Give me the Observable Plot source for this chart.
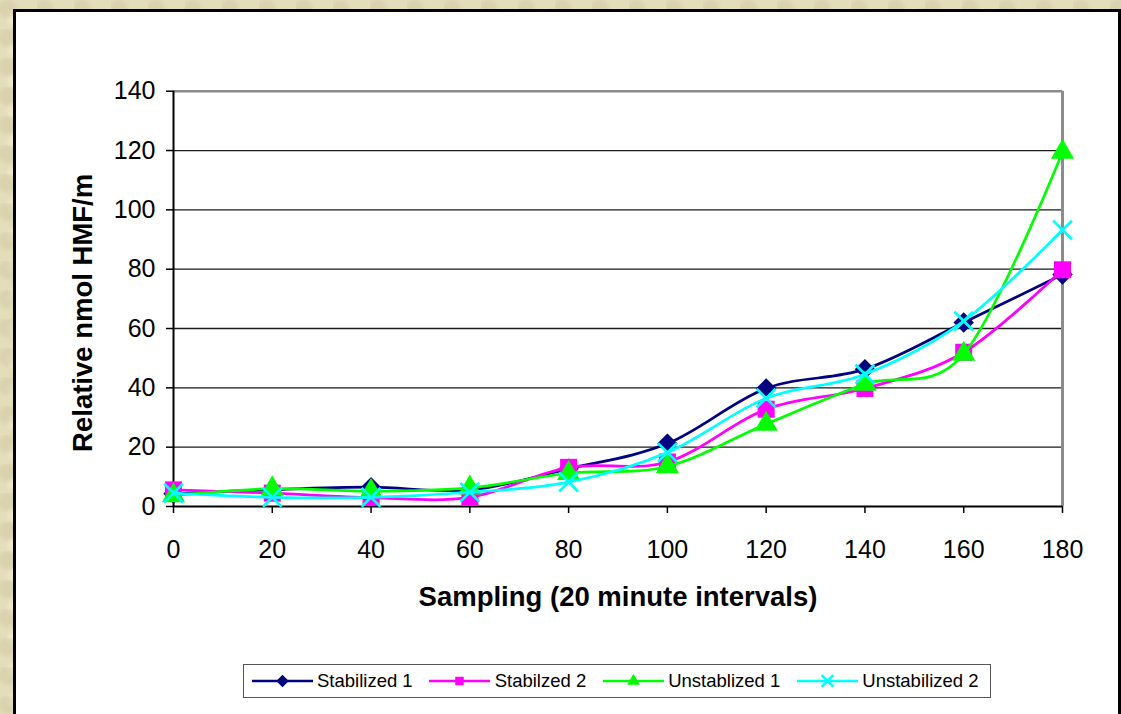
<!DOCTYPE html>
<html>
<head>
<meta charset="utf-8">
<script src="https://cdn.jsdelivr.net/npm/d3@7"></script>
<script src="https://cdn.jsdelivr.net/npm/@observablehq/plot@0.6"></script>
<style>
  html, body { margin: 0; padding: 0; }
  body {
    width: 1121px; height: 714px; position: relative; overflow: hidden;
    font-family: Arial, "Liberation Sans", sans-serif;
    background-color: #e4ddba;
    background-image:
      radial-gradient(circle at 20% 30%, rgba(200,190,150,0.35) 0 6px, transparent 12px),
      radial-gradient(circle at 70% 60%, rgba(245,240,215,0.6) 0 5px, transparent 11px),
      radial-gradient(circle at 45% 80%, rgba(205,195,155,0.3) 0 4px, transparent 9px);
    background-size: 37px 29px, 23px 31px, 41px 19px;
  }
  #panel {
    position: absolute; left: 13px; top: 9px; width: 1108px; height: 720px;
    box-sizing: border-box; border: 3px solid #000; background: #fff;
  }
  #chart { position: absolute; left: 0; top: 0; }
  #legend {
    position: absolute; left: 243px; top: 664px; width: 748px; height: 34px;
    box-sizing: border-box; border: 1.5px solid #555; background: #fff;
    display: flex; align-items: center; padding-left: 7.5px;
    font-size: 18.5px; color: #000; white-space: nowrap;
  }
  #legend .item { display: flex; align-items: center; margin-right: 16.5px; }
  #legend svg { display: block; margin-right: 4.5px; }
</style>
</head>
<body>
<div id="panel"></div>
<div id="chart"></div>
<div id="legend"></div>
<script>
// Sampling times (minutes) and the relative HMF readings of each run
const times = [0, 20, 40, 60, 80, 100, 120, 140, 160, 180];
const stabilized1 = [4.3, 5.7, 6.5, 5.6, 12.7, 21.2, 39.8, 46.3, 62.0, 78.2];
const stabilized2 = [5.6, 4.5, 3.0, 3.1, 13.2, 15.0, 32.8, 39.8, 52.0, 79.8];
const unstabilized1 = [3.7, 6.0, 5.2, 6.3, 11.2, 13.5, 27.8, 41.3, 51.4, 119.5];
const unstabilized2 = [4.5, 3.1, 3.1, 4.8, 8.2, 18.2, 36.5, 44.6, 62.5, 93.2];
const seriesNames = ["Stabilized 1", "Stabilzed 2", "Unstablized 1", "Unstabilized 2"];
const xTicks = [0, 20, 40, 60, 80, 100, 120, 140, 160, 180];
const yTicks = [0, 20, 40, 60, 80, 100, 120, 140];
const xTitle = "Sampling (20 minute intervals)";
const yTitle = "Relative nmol HMF/m";

// Per-series look: line colour and marker
const styles = [
  {color: "#000080", symbol: "diamond2", r: 9.2, filled: true},
  {color: "#ff00ff", symbol: "square", r: 9.6, filled: true},
  {color: "#00ff00", symbol: "triangle", r: 8.6, filled: true},
  {color: "#00ffff", symbol: "times", r: 8.6, filled: false}
];

const valueLists = [stabilized1, stabilized2, unstabilized1, unstabilized2];
const series = seriesNames.map((name, i) => ({
  name,
  style: styles[i],
  rows: times.map((t, j) => ({time: t, value: valueLists[i][j]}))
}));

const xMax = d3.max(xTicks), yMax = d3.max(yTicks);
const gridValues = yTicks.filter(v => v > 0 && v < yMax);

const marks = [
  Plot.ruleY(gridValues, {stroke: "#1a1a1a", strokeWidth: 1.3}),
  Plot.ruleY([yMax], {stroke: "#8c8c8c", strokeWidth: 2.5}),
  Plot.ruleX([xMax], {stroke: "#8c8c8c", strokeWidth: 3}),
  Plot.axisY({ticks: yTicks, tickSize: 7, tickPadding: 11, fontSize: 25, label: null, strokeWidth: 1.5}),
  Plot.axisX({ticks: xTicks, tickSize: 7, tickPadding: 27, fontSize: 25, label: null, strokeWidth: 1.5}),
  Plot.ruleX([0], {stroke: "#000", strokeWidth: 2}),
  Plot.ruleY([0], {stroke: "#000", strokeWidth: 2})
];

for (const s of series) {
  const st = s.style;
  marks.push(Plot.line(s.rows, {x: "time", y: "value", stroke: st.color, strokeWidth: 2.7, curve: "cardinal"}));
  marks.push(st.filled
    ? Plot.dot(s.rows, {x: "time", y: "value", symbol: () => st.symbol, r: st.r, fill: st.color, stroke: "none"})
    : Plot.dot(s.rows, {x: "time", y: "value", symbol: () => st.symbol, r: st.r, stroke: st.color, strokeWidth: 2.7, fill: "none"}));
}

marks.push(Plot.text([xTitle], {frameAnchor: "bottom", dy: 91, lineAnchor: "middle", fontSize: 27.5, fontWeight: "bold", fill: "#000"}));
marks.push(Plot.text([yTitle], {frameAnchor: "left", rotate: -90, dx: -90, dy: 14, textAnchor: "middle", lineAnchor: "middle", fontSize: 27.5, fontWeight: "bold", fill: "#000"}));

const chart = Plot.plot({
  width: 1121,
  height: 640,
  marginLeft: 173,
  marginRight: 59,
  marginTop: 90.7,
  marginBottom: 134,
  x: {domain: [0, xMax]},
  y: {domain: [0, yMax]},
  symbol: {type: "identity"},
  style: {background: "transparent", fontFamily: "Arial, 'Liberation Sans', sans-serif", color: "#000", overflow: "visible"},
  marks
});
document.getElementById("chart").append(chart);

// Legend: line sample with marker, followed by the series name
const legend = d3.select("#legend");
const symbolTypes = {diamond2: d3.symbolDiamond2, square: d3.symbolSquare, triangle: d3.symbolTriangle, times: d3.symbolTimes};
const legendSizes = {diamond2: 100, square: 72, triangle: 70, times: 90};
for (const s of series) {
  const st = s.style;
  const item = legend.append("div").attr("class", "item");
  const svg = item.append("svg").attr("width", 61).attr("height", 16);
  svg.append("line").attr("x1", 0).attr("x2", 61).attr("y1", 8).attr("y2", 8)
    .attr("stroke", st.color).attr("stroke-width", 2.5);
  svg.append("path")
    .attr("transform", "translate(30.5,8)")
    .attr("d", d3.symbol(symbolTypes[st.symbol], legendSizes[st.symbol])())
    .attr("fill", st.filled ? st.color : "none")
    .attr("stroke", st.filled ? "none" : st.color)
    .attr("stroke-width", st.filled ? 0 : 2.5);
  item.append("span").text(s.name);
}
</script>
</body>
</html>
